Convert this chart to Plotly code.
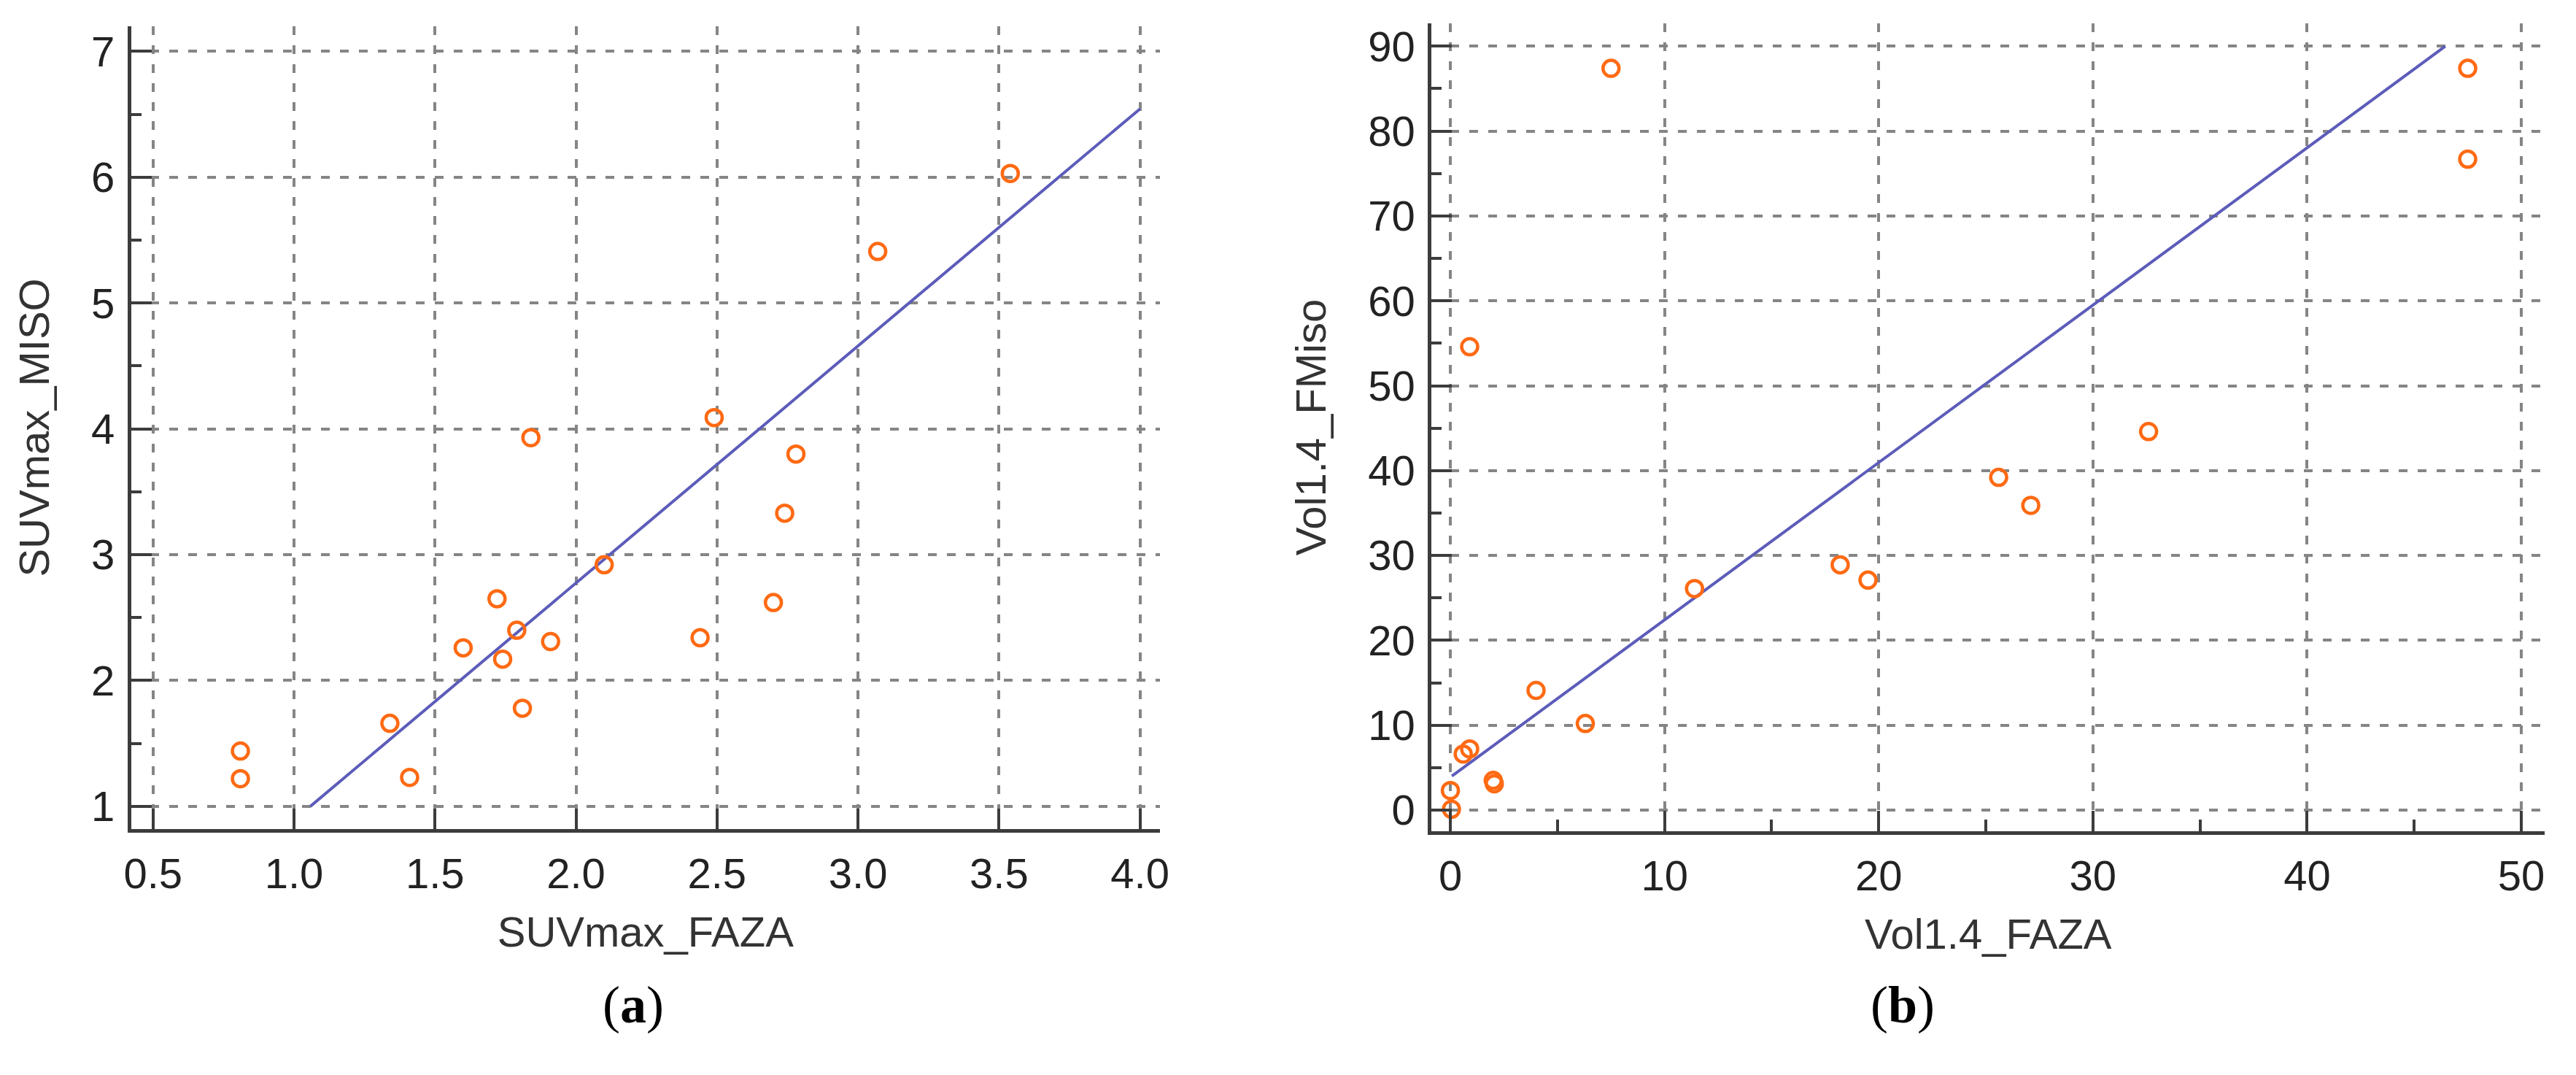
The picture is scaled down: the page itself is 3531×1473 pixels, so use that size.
import plotly.graph_objects as go

# ---------------- data ----------------
# Panel (a)
suv_faza = [0.81, 0.81, 1.34, 1.41, 1.60, 1.72, 1.74, 1.79, 1.81, 1.84, 1.91, 2.10,
            2.44, 2.49, 2.70, 2.74, 2.78, 3.07, 3.54]
suv_miso = [1.44, 1.22, 1.66, 1.23, 2.26, 2.65, 2.17, 2.40, 1.78, 3.93, 2.31, 2.92,
            2.34, 4.09, 2.62, 3.33, 3.80, 5.41, 6.03]
fit_a_slope = 1.884
fit_a_intercept = -0.993
fit_a_xrange = [1.058, 4.0]

# Panel (b)
vol_faza = [7.5, 47.5, 47.5, 0.9, 32.6, 25.6, 27.1, 18.2, 19.5, 11.4, 4.0, 6.3,
            0.9, 0.6, 2.0, 2.05, 0.0, 0.05]
vol_fmiso = [87.4, 87.4, 76.7, 54.6, 44.6, 39.2, 35.9, 28.9, 27.1, 26.1, 14.1, 10.2,
             7.2, 6.6, 3.5, 3.1, 2.3, 0.1]
fit_b_slope = 1.854
fit_b_intercept = 3.87
fit_b_xrange = [0.07, 46.45]

# axis ticks
a_xticks = [0.5, 1.0, 1.5, 2.0, 2.5, 3.0, 3.5, 4.0]
a_xticklabels = ["0.5", "1.0", "1.5", "2.0", "2.5", "3.0", "3.5", "4.0"]
a_yticks = [1, 2, 3, 4, 5, 6, 7]
b_xticks = [0, 10, 20, 30, 40, 50]
b_yticks = [0, 10, 20, 30, 40, 50, 60, 70, 80, 90]

W, H = 3531, 1473
FONT = "Liberation Sans Narrow, Arial Narrow, Liberation Sans, Arial, sans-serif"
AXC = "#3c3c3c"
GRIDC = "#858585"
MARKC = "#FF6A13"
LINEC = "#5c5cba"

fig = go.Figure()


def line_pts(slope, intercept, xr):
    return xr, [intercept + slope * x for x in xr]


fx, fy = line_pts(fit_a_slope, fit_a_intercept, fit_a_xrange)
fig.add_trace(go.Scatter(x=fx, y=fy, mode="lines", line=dict(color=LINEC, width=4),
                         xaxis="x", yaxis="y", showlegend=False))
fig.add_trace(go.Scatter(x=suv_faza, y=suv_miso, mode="markers",
                         marker=dict(symbol="circle-open", size=22, color=MARKC,
                                     line=dict(width=4.5, color=MARKC)),
                         xaxis="x", yaxis="y", showlegend=False))

fx, fy = line_pts(fit_b_slope, fit_b_intercept, fit_b_xrange)
fig.add_trace(go.Scatter(x=fx, y=fy, mode="lines", line=dict(color=LINEC, width=4),
                         xaxis="x2", yaxis="y2", showlegend=False))
fig.add_trace(go.Scatter(x=vol_faza, y=vol_fmiso, mode="markers",
                         marker=dict(symbol="circle-open", size=22, color=MARKC,
                                     line=dict(width=4.5, color=MARKC)),
                         xaxis="x2", yaxis="y2", showlegend=False))

common = dict(showline=True, linecolor=AXC, linewidth=5, mirror=False,
              ticks="inside", ticklen=28, tickwidth=4, tickcolor=AXC,
              showgrid=True, gridcolor=GRIDC, gridwidth=4, griddash="12px,14px",
              zeroline=False, tickfont=dict(family=FONT, size=58, color="#222222"),
              ticklabelstandoff=6)

fig.update_layout(
    width=W, height=H, margin=dict(l=0, r=0, t=0, b=0),
    paper_bgcolor="white", plot_bgcolor="white",
    xaxis=dict(common, domain=[163 / W, 1582 / W], range=[0.423, 4.07],
               tickvals=a_xticks, ticktext=a_xticklabels, anchor="y",
               title=dict(text="SUVmax_FAZA", font=dict(family=FONT, size=58, color="#333333"),
                          standoff=30)),
    yaxis=dict(common, domain=[1 - 1130 / H, 1 - 27 / H], range=[0.82, 7.2],
               tickvals=a_yticks, anchor="x",
               minor=dict(ticks="inside", ticklen=14, tickwidth=4, tickcolor=AXC,
                          dtick=0.5, tick0=0, showgrid=False),
               title=dict(text="SUVmax_MISO", font=dict(family=FONT, size=58, color="#333333"),
                          standoff=40)),
    xaxis2=dict(common, domain=[1957 / W, 3493 / W], range=[-0.88, 51.1],
                tickvals=b_xticks, anchor="y2",
                minor=dict(ticks="inside", ticklen=16, tickwidth=4, tickcolor=AXC,
                           dtick=5, tick0=0, showgrid=False),
                title=dict(text="Vol1.4_FAZA", font=dict(family=FONT, size=58, color="#333333"),
                           standoff=30)),
    yaxis2=dict(common, domain=[1 - 1133 / H, 1 - 23 / H], range=[-2.49, 92.7],
                tickvals=b_yticks, anchor="x2",
                minor=dict(ticks="inside", ticklen=14, tickwidth=4, tickcolor=AXC,
                           dtick=5, tick0=0, showgrid=False),
                title=dict(text="Vol1.4_FMiso", font=dict(family=FONT, size=58, color="#333333"),
                           standoff=40)),
    annotations=[
        dict(text="(<b>a</b>)", x=811 / W, y=1 - 1414 / H, xref="paper", yref="paper",
             showarrow=False, font=dict(family="Liberation Serif, Times New Roman, serif",
                                        size=72, color="black")),
        dict(text="(<b>b</b>)", x=2653 / W, y=1 - 1414 / H, xref="paper", yref="paper",
             showarrow=False, font=dict(family="Liberation Serif, Times New Roman, serif",
                                        size=72, color="black")),
    ],
)

fig.write_html("out.html")
